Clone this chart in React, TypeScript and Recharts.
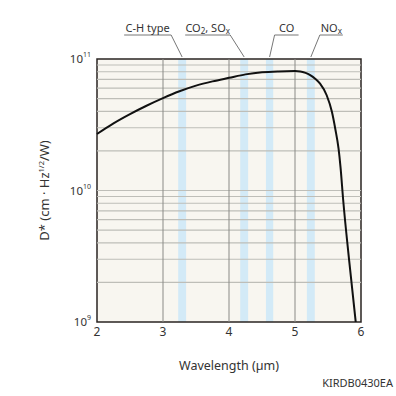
import { LineChart, Line, XAxis, YAxis, ReferenceLine, ReferenceArea } from 'recharts';

// D* curve
const wavelength = [2.0, 2.25, 2.5, 2.75, 3.0, 3.25, 3.5, 3.75, 4.0, 4.25, 4.5, 4.75, 5.0, 5.08, 5.16, 5.23, 5.31, 5.38, 5.48, 5.56, 5.61, 5.66, 5.69, 5.73, 5.82, 5.92];
const detectivity = [2.69e10, 3.24e10, 3.81e10, 4.41e10, 5.04e10, 5.68e10, 6.27e10, 6.76e10, 7.19e10, 7.64e10, 7.93e10, 8.05e10, 8.09e10, 8.05e10, 7.85e10, 7.55e10, 7.05e10, 6.49e10, 5.3e10, 3.95e10, 2.95e10, 2.08e10, 1.5e10, 8.47e9, 2.96e9, 1e9];

// absorption bands
const bandNames = ['C-H type', 'CO_2, SO_x', 'CO', 'NO_x'];
const bandStart = [3.23, 4.17, 4.56, 5.18];
const bandEnd = [3.35, 4.29, 4.67, 5.3];

const xTicks = [2, 3, 4, 5, 6];
const yTicks = [1e9, 1e10, 1e11];
const minorY = [2e9, 3e9, 4e9, 5e9, 6e9, 7e9, 8e9, 9e9, 1e10, 2e10, 3e10, 4e10, 5e10, 6e10, 7e10, 8e10, 9e10];
const gridX = [3, 4, 5];

const data = wavelength.map((wl, i) => ({ wl, d: detectivity[i] }));

// leader line layout for each band label: elbow offset, underline length, direction
const leader = [
  { dx: -11, len: 47, side: -1 },
  { dx: -14, len: 45, side: -1 },
  { dx: 5, len: 24, side: 1 },
  { dx: 9, len: 23, side: 1 },
];

const TEXT = '#333';
const FONT = '"Noto Sans", sans-serif';

function renderSubs(label: string) {
  const parts = label.split('_');
  return parts.map((p, i) => {
    if (i === 0) return <tspan key={i}>{p}</tspan>;
    return [
      <tspan key={i + 's'} fontSize={8} dy={2}>{p[0]}</tspan>,
      <tspan key={i + 'r'} dy={-2}>{p.slice(1)}</tspan>,
    ];
  });
}

const bandLabel = (i: number) => (props: any) => {
  const { viewBox } = props;
  if (!viewBox) return null;
  const cx = viewBox.x + viewBox.width / 2;
  const top = viewBox.y;
  const { dx, len, side } = leader[i];
  const ex = cx + dx;
  const ey = top - 24;
  const ux = ex + side * len;
  return (
    <g>
      <line x1={cx} y1={top - 2} x2={ex} y2={ey} stroke="#777" strokeWidth={1} />
      <line x1={ex} y1={ey} x2={ux} y2={ey} stroke="#777" strokeWidth={1} />
      <text x={(ex + ux) / 2} y={ey - 3} textAnchor="middle" fontSize={11} fill={TEXT} fontFamily={FONT}>
        {renderSubs(bandNames[i])}
      </text>
    </g>
  );
};

const XTick = ({ x, y, payload }: any) => (
  <text x={x} y={y} dy={8} textAnchor="middle" fontSize={12} fill={TEXT} fontFamily={FONT}>
    {payload.value}
  </text>
);

const YTick = ({ x, y, payload }: any) => (
  <text x={x} y={y} dy={4} textAnchor="end" fontSize={11.5} fill={TEXT} fontFamily={FONT}>
    10
    <tspan fontSize={7} dy={-6}>{Math.round(Math.log10(payload.value))}</tspan>
  </text>
);

const YLabel = ({ viewBox }: any) => {
  const cx = viewBox.x + 45;
  const cy = viewBox.y + viewBox.height / 2;
  return (
    <text x={cx} y={cy} transform={`rotate(-90, ${cx}, ${cy})`} textAnchor="middle" dy={4} fontSize={13} fill={TEXT} fontFamily={FONT}>
      D* (cm · Hz
      <tspan fontSize={7.5} dy={-5}>1/2</tspan>
      <tspan dy={5}>/W)</tspan>
    </text>
  );
};

const XLabel = ({ viewBox }: any) => (
  <text x={viewBox.x + viewBox.width / 2} y={viewBox.y + 48} textAnchor="middle" fontSize={12.5} fill={TEXT} fontFamily={FONT}>
    Wavelength (µm)
  </text>
);

export default function App() {
  return (
    <div style={{ position: 'absolute', left: 0, top: 0, width: 396, height: 396, background: '#fff', fontFamily: FONT }}>
      <LineChart width={396} height={396} data={data} margin={{ top: 59, right: 35, bottom: 0, left: 0 }}>
        <XAxis
          dataKey="wl"
          type="number"
          domain={[2, 6]}
          ticks={xTicks}
          tick={<XTick />}
          axisLine={false}
          tickLine={false}
          tickSize={4}
          tickMargin={2}
          height={74}
          label={<XLabel />}
        />
        <YAxis
          dataKey="d"
          scale="log"
          domain={[1e9, 1e11]}
          ticks={yTicks}
          tick={<YTick />}
          axisLine={false}
          tickLine={false}
          tickSize={4}
          tickMargin={2}
          width={97}
          allowDataOverflow
          label={<YLabel />}
        />
        <ReferenceArea x1={2} x2={6} y1={1e9} y2={1e11} fill="#f8f6f0" fillOpacity={1} stroke="none" />
        {minorY.map((v) => (
          <ReferenceLine key={'h' + v} y={v} stroke="#bebeb8" strokeWidth={1.2} />
        ))}
        {gridX.map((v) => (
          <ReferenceLine key={'v' + v} x={v} stroke="#8a8a86" strokeWidth={1} />
        ))}
        {bandNames.map((n, i) => (
          <ReferenceArea
            key={n}
            x1={bandStart[i]}
            x2={bandEnd[i]}
            y1={1e9}
            y2={1e11}
            fill="#d3eaf7"
            fillOpacity={1}
            stroke="none"
            label={bandLabel(i)}
          />
        ))}
        <Line
          dataKey="d"
          type="monotone"
          stroke="#111"
          strokeWidth={2}
          dot={false}
          isAnimationActive={false}
        />
        <ReferenceArea x1={2} x2={6} y1={1e9} y2={1e11} fill="none" stroke="#2a2522" strokeWidth={1.5} />
      </LineChart>
      <div style={{ position: 'absolute', right: 3, top: 377, fontSize: 11, color: TEXT, fontFamily: FONT, lineHeight: '12px' }}>
        KIRDB0430EA
      </div>
    </div>
  );
}
